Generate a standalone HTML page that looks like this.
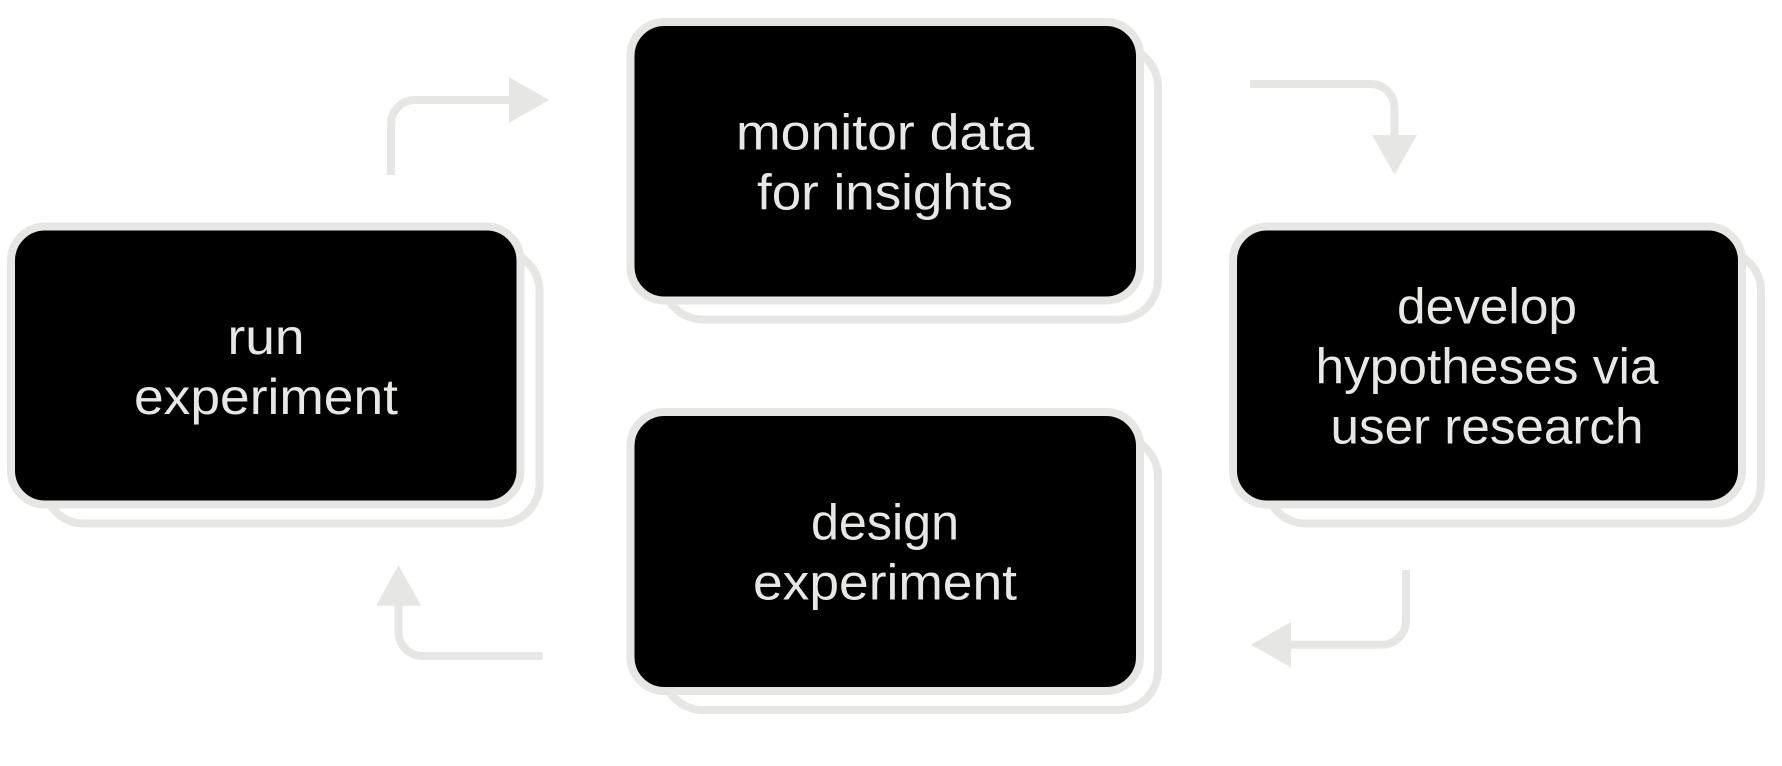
<!DOCTYPE html>
<html><head><meta charset="utf-8"><style>
html,body{margin:0;padding:0;background:#fff;width:1782px;height:766px;overflow:hidden}
svg{display:block}
text{font-family:"Liberation Sans",sans-serif;font-size:50px;fill:#e7e7e5;text-anchor:middle}
</style></head><body>
<svg width="1782" height="766" viewBox="0 0 1782 766" xmlns="http://www.w3.org/2000/svg">
<g fill="none" stroke="#e6e6e4" stroke-width="8">
<rect x="44" y="251" width="495.500" height="272.500" rx="40" fill="#fff"/>
<rect x="11" y="226.500" width="509.500" height="278" rx="34" fill="#000"/>
<rect x="663" y="47" width="495" height="272.500" rx="40" fill="#fff"/>
<rect x="630.500" y="22" width="509.500" height="278.500" rx="34" fill="#000"/>
<rect x="1266" y="251" width="495" height="272.500" rx="40" fill="#fff"/>
<rect x="1233" y="226.500" width="509" height="278" rx="34" fill="#000"/>
<rect x="663" y="437" width="495" height="273" rx="40" fill="#fff"/>
<rect x="630.500" y="412" width="509.500" height="279" rx="34" fill="#000"/>
<path d="M391 175V124A24 24 0 0 1 415 100H512"/>
<path d="M1250 84H1370.500A24 24 0 0 1 1394.500 108V138"/>
<path d="M1406 570V620.700A24 24 0 0 1 1382 644.700H1288"/>
<path d="M542.700 656H422.500A24 24 0 0 1 398.500 632V603"/>
</g>
<g fill="#e6e6e4" stroke="none">
<path d="M509 77L549 100L509 123Z"/>
<path d="M1372 135H1417L1394.500 174.500Z"/>
<path d="M1291 622V667.500L1251 644.700Z"/>
<path d="M376 605.700H421L398.500 565Z"/>
</g>
<text x="885" y="149.500" textLength="298" lengthAdjust="spacingAndGlyphs">monitor data</text>
<text x="885" y="209.500" textLength="256" lengthAdjust="spacingAndGlyphs">for insights</text>
<text x="266" y="354" textLength="77" lengthAdjust="spacingAndGlyphs">run</text>
<text x="266" y="414" textLength="264" lengthAdjust="spacingAndGlyphs">experiment</text>
<text x="1487" y="323.500" textLength="180" lengthAdjust="spacingAndGlyphs">develop</text>
<text x="1487" y="383.500" textLength="343" lengthAdjust="spacingAndGlyphs">hypotheses via</text>
<text x="1487" y="443.500" textLength="313" lengthAdjust="spacingAndGlyphs">user research</text>
<text x="885" y="539.500" textLength="148" lengthAdjust="spacingAndGlyphs">design</text>
<text x="885" y="599.500" textLength="264" lengthAdjust="spacingAndGlyphs">experiment</text>
</svg>
</body></html>
